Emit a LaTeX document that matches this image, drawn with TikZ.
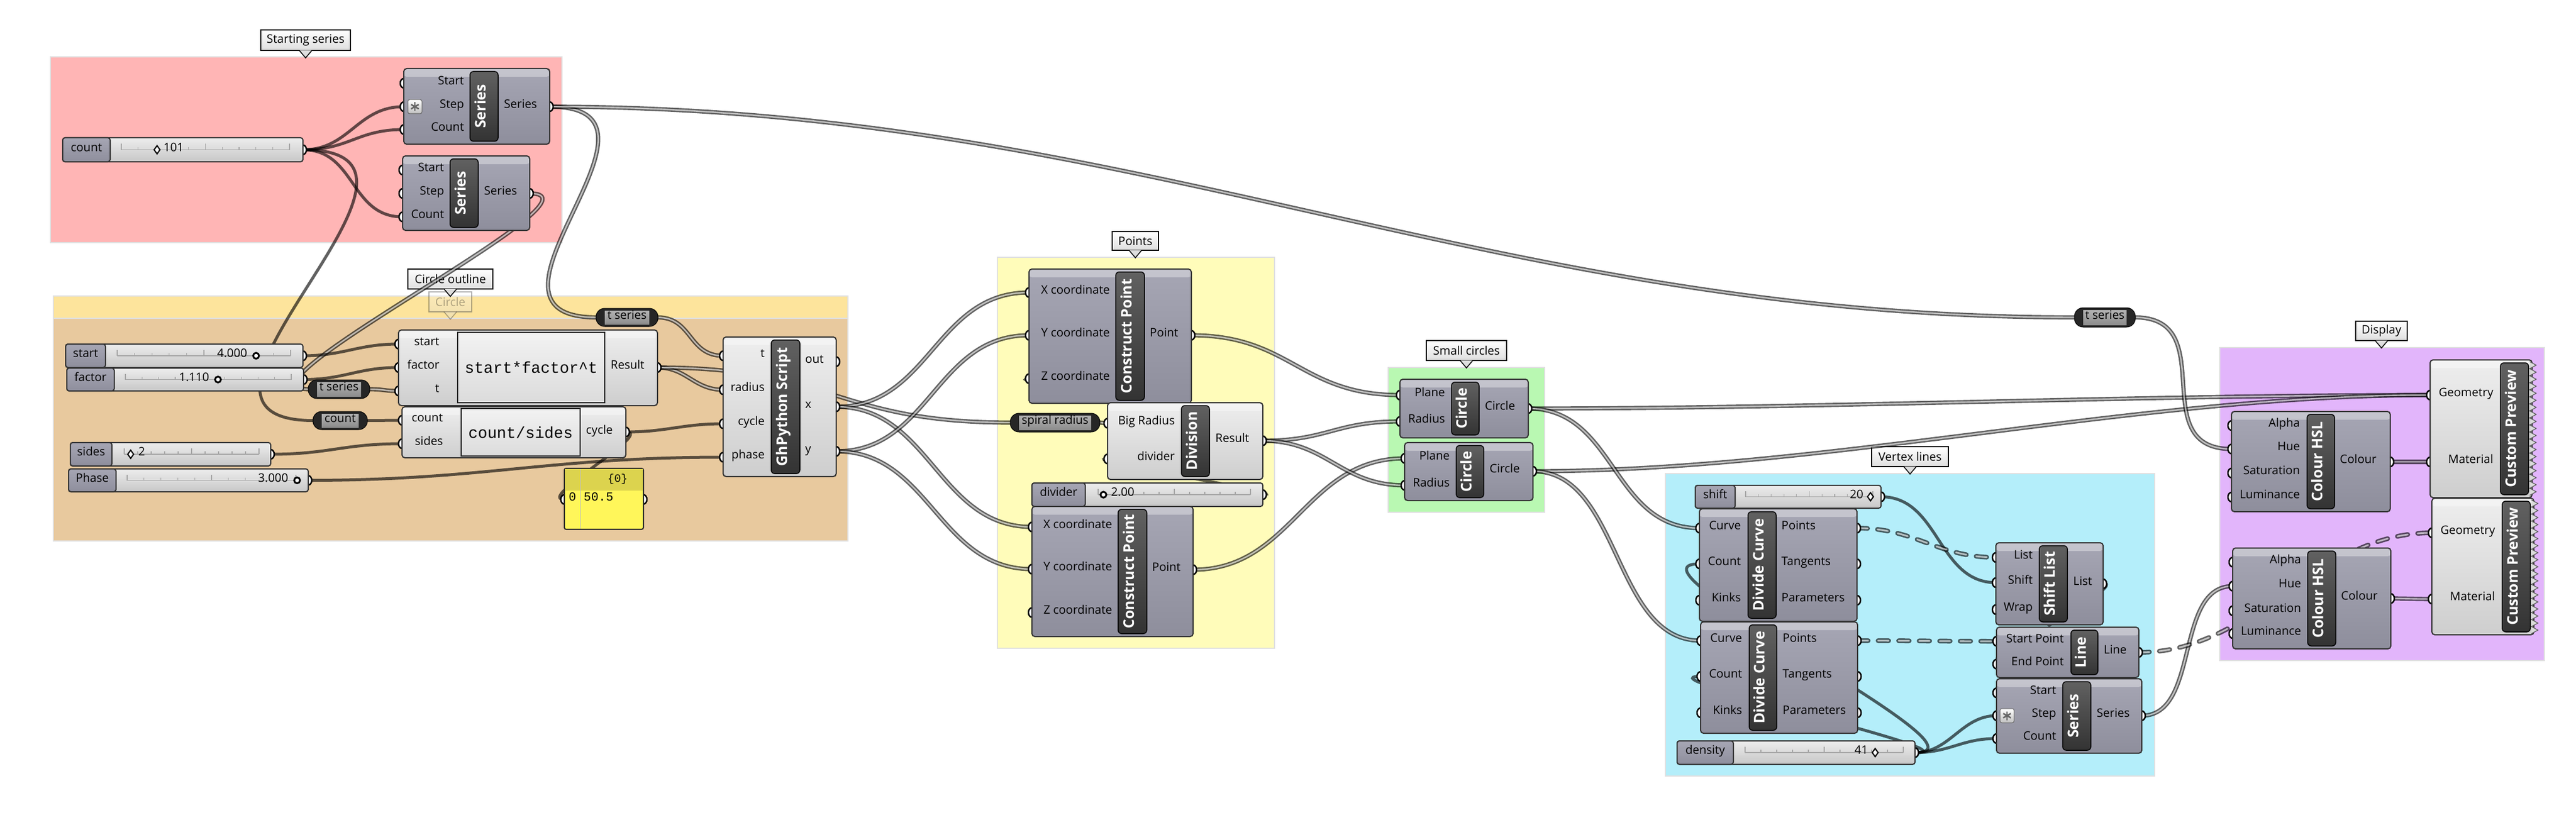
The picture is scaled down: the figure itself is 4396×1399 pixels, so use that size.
\documentclass[tikz,border=0pt]{standalone}
\usepackage{fontspec}
\setmainfont{Open Sans}
\setmonofont{Liberation Mono}
\usetikzlibrary{fit}
\definecolor{gpink}{RGB}{255,181,181}
\definecolor{gband}{RGB}{253,228,156}
\definecolor{gtan}{RGB}{232,201,158}
\definecolor{gyel}{RGB}{255,252,186}
\definecolor{ggrn}{RGB}{185,248,178}
\definecolor{gblu}{RGB}{180,238,250}
\definecolor{gpur}{RGB}{226,181,251}
\definecolor{dktop}{RGB}{166,166,180}
\definecolor{dkbot}{RGB}{142,142,156}
\definecolor{lttop}{RGB}{238,238,238}
\definecolor{ltbot}{RGB}{206,206,206}
\definecolor{pyel}{RGB}{255,246,90}
\definecolor{pyelh}{RGB}{220,211,78}

\begin{document}
\begin{tikzpicture}[
    x=1pt,y=-1pt,
    grp/.style={draw=black!12, line width=2pt},
    call/.style={draw=black, line width=1.5pt, top color=white, bottom color=black!13, inner sep=0pt, font=\fontsize{20}{22}\selectfont},
    calltip/.style={fill=black!13, draw=black, line width=1.5pt},
    wire/.style={draw=black, draw opacity=.62, line width=5pt},
    list/.style={draw=black, draw opacity=.62, line width=2.4pt, double=white, double distance=2.4pt},
    tree/.style={list, line width=2.6pt, double distance=2.8pt, dash pattern=on 18pt off 17pt, line cap=round},
    port/.style={fill=white, draw=black, line width=2.5pt},
    dkbody/.style={draw=black!80, line width=2pt, rounded corners=5pt, top color=dktop, bottom color=dkbot, inner sep=0pt,
      path picture={\fill[white, opacity=.35] (path picture bounding box.north west) rectangle ([yshift=-14pt]path picture bounding box.north east);}},
    ltbody/.style={dkbody, top color=lttop, bottom color=ltbot},
    bar/.style={draw=black, line width=1.5pt, rounded corners=6pt, top color=black!62, bottom color=black!80, inner sep=0pt},
    bartxt/.style={text=white, rotate=90, anchor=mid, inner sep=0pt, font=\fontsize{25}{27}\selectfont\bfseries},
    lbl/.style={inner sep=0pt, anchor=mid, font=\fontsize{20}{22}\selectfont},
    inl/.style={lbl, anchor=mid east},
    outl/.style={lbl, anchor=mid west},
    code/.style={inner sep=0pt, font=\ttfamily\fontsize{27}{29}\selectfont},
    codebox/.style={draw=black!85, line width=1.5pt, top color=white!95!black, bottom color=black!14, inner sep=0pt},
    sld/.style={draw=black!80, line width=2pt, rounded corners=4pt, top color=white!93!black, bottom color=black!22, inner sep=0pt},
    sldlab/.style={sld, top color=dktop, bottom color=dkbot},
    tick/.style={draw=black!35, line width=1.2pt},
    dia/.style={fill=white, draw=black, line width=2pt},
    ring/.style={fill=white, draw=black, line width=3pt},
    relay/.style={fill=black!85, draw=black, line width=1pt, rounded corners=15pt, inner sep=0pt},
    relayin/.style={top color=black!30, bottom color=black!45, inner sep=0pt},
    stari/.style={draw=black!60, line width=1pt, rounded corners=3pt, top color=white, bottom color=black!25, inner sep=0pt},
    panel/.style={draw=black!85, line width=2pt, rounded corners=3pt, fill=pyel, inner sep=0pt}
    ]
    \useasboundingbox[fill=white] (0,0) rectangle (4396,1399);

    \filldraw[grp, fill=gpink] (86,97) rectangle (959,414);
    \filldraw[grp, fill=gband] (91,505) rectangle (1447,923);
    \filldraw[grp, fill=gtan] (91,543) rectangle (1447,923);
    \filldraw[grp, fill=gyel] (1702,439) rectangle (2175,1106);
    \filldraw[grp, fill=ggrn] (2369,627) rectangle (2636,874);
    \filldraw[grp, fill=gblu] (2842,808) rectangle (3677,1324);
    \filldraw[grp, fill=gpur] (3788,593) rectangle (4342,1127);

    \node[call, minimum width=153, minimum height=35] (c-start) at (521.5,68.5) {Starting series};
    \node[call, minimum width=145, minimum height=34] (c-outl) at (768.5,476) {Circle outline};
    \node[call, minimum width=73, minimum height=34, opacity=.3] (c-circ) at (768.5,515) {Circle};
    \node[call, minimum width=79, minimum height=32] (c-pts) at (1937.5,411) {Points};
    \node[call, minimum width=137, minimum height=34] (c-small) at (2502.5,598) {Small circles};
    \node[call, minimum width=131, minimum height=34] (c-vert) at (3259.5,779) {Vertex lines};
    \node[call, minimum width=88, minimum height=33] (c-disp) at (4064,564.5) {Display};
    \foreach \c in {c-start,c-outl,c-pts,c-small,c-vert,c-disp}
      \filldraw[calltip] ([xshift=-11pt,yshift=1pt]\c.south) -- ([yshift=-12pt]\c.south) -- ([xshift=11pt,yshift=1pt]\c.south);
    \filldraw[calltip, opacity=.3] ([xshift=-11pt,yshift=1pt]c-circ.south) -- ([yshift=-12pt]c-circ.south) -- ([xshift=11pt,yshift=1pt]c-circ.south);

    \coordinate (cnt-out) at (517,255.5);
    \coordinate (ser1-start) at (689,142);
    \coordinate (ser1-step) at (689,182);
    \coordinate (ser1-count) at (689,221);
    \coordinate (ser1-out) at (938,182);
    \coordinate (ser2-start) at (687,290);
    \coordinate (ser2-step) at (687,330);
    \coordinate (ser2-count) at (687,370);
    \coordinate (ser2-out) at (904,330);
    \coordinate (start-out) at (517,607);
    \coordinate (factor-out) at (518,647.5);
    \coordinate (sides-out) at (462,775);
    \coordinate (phase-out) at (526,819.5);
    \coordinate (tsa-in) at (527,664);
    \coordinate (tsa-out) at (630,664);
    \coordinate (tsb-in) at (1018,541.5);
    \coordinate (tsb-out) at (1122,541.5);
    \coordinate (tsc-in) at (3541,541.5);
    \coordinate (tsc-out) at (3643,541.5);
    \coordinate (cntr-in) at (535,717.5);
    \coordinate (cntr-out) at (626,717.5);
    \coordinate (spr-in) at (1725,721);
    \coordinate (spr-out) at (1876,721);
    \coordinate (ex1-start) at (680,587);
    \coordinate (ex1-factor) at (680,627);
    \coordinate (ex1-t) at (680,667);
    \coordinate (ex1-out) at (1122,627);
    \coordinate (ex2-count) at (686,717);
    \coordinate (ex2-sides) at (686,757);
    \coordinate (ex2-out) at (1068,737);
    \coordinate (pan-in) at (963,852);
    \coordinate (pan-out) at (1098,852);
    \coordinate (gh-t) at (1234,607);
    \coordinate (gh-radius) at (1234,665);
    \coordinate (gh-cycle) at (1234,723);
    \coordinate (gh-phase) at (1234,780);
    \coordinate (gh-out) at (1427,617);
    \coordinate (gh-x) at (1427,694);
    \coordinate (gh-y) at (1427,770);
    \coordinate (cp1-x) at (1756,499);
    \coordinate (cp1-y) at (1756,572);
    \coordinate (cp1-z) at (1756,646);
    \coordinate (cp1-out) at (2033,572);
    \coordinate (div-big) at (1890,722);
    \coordinate (div-div) at (1890,783);
    \coordinate (div-out) at (2155,752);
    \coordinate (dvs-out) at (2155,844);
    \coordinate (cp2-x) at (1761,899);
    \coordinate (cp2-y) at (1761,971);
    \coordinate (cp2-z) at (1761,1045);
    \coordinate (cp2-out) at (2036,972);
    \coordinate (c1-plane) at (2389,674);
    \coordinate (c1-rad) at (2389,719);
    \coordinate (c1-out) at (2608,697);
    \coordinate (c2-plane) at (2397,782);
    \coordinate (c2-rad) at (2397,828);
    \coordinate (c2-out) at (2616,804);
    \coordinate (shift-out) at (3210,847.5);
    \coordinate (dens-out) at (3268,1284);
    \coordinate (dc1-curve) at (2900,901);
    \coordinate (dc1-count) at (2900,962);
    \coordinate (dc1-kinks) at (2900,1024);
    \coordinate (dc1-pts) at (3169,901);
    \coordinate (dc1-tan) at (3169,962);
    \coordinate (dc1-par) at (3169,1024);
    \coordinate (dc2-curve) at (2902,1093);
    \coordinate (dc2-count) at (2902,1154);
    \coordinate (dc2-kinks) at (2902,1216);
    \coordinate (dc2-pts) at (3170,1093);
    \coordinate (dc2-tan) at (3170,1154);
    \coordinate (dc2-par) at (3170,1216);
    \coordinate (sl-list) at (3406,951);
    \coordinate (sl-shift) at (3406,994);
    \coordinate (sl-wrap) at (3406,1040);
    \coordinate (sl-out) at (3589,996);
    \coordinate (ln-start) at (3407,1094);
    \coordinate (ln-end) at (3407,1133);
    \coordinate (ln-out) at (3650,1113);
    \coordinate (ser3-start) at (3407,1182);
    \coordinate (ser3-step) at (3407,1221);
    \coordinate (ser3-count) at (3407,1260);
    \coordinate (ser3-out) at (3655,1221);
    \coordinate (h1-alpha) at (3808,726);
    \coordinate (h1-hue) at (3808,766);
    \coordinate (h1-sat) at (3808,807);
    \coordinate (h1-lum) at (3808,848);
    \coordinate (h1-out) at (4079,788);
    \coordinate (h2-alpha) at (3810,959);
    \coordinate (h2-hue) at (3810,1000);
    \coordinate (h2-sat) at (3810,1042);
    \coordinate (h2-lum) at (3810,1081);
    \coordinate (h2-out) at (4080,1021);
    \coordinate (pv1-geo) at (4147,674);
    \coordinate (pv1-mat) at (4147,788);
    \coordinate (pv2-geo) at (4150,909);
    \coordinate (pv2-mat) at (4150,1022);

    \draw[wire] (cnt-out) .. controls +(80,0) and +(-80,0) .. (ser1-step);
    \draw[wire] (cnt-out) .. controls +(80,0) and +(-80,0) .. (ser1-count);
    \draw[wire] (cnt-out) .. controls +(90,0) and +(-90,0) .. (ser2-count);
    \draw[wire] (cnt-out) .. controls +(310,0) and +(-310,0) .. (cntr-in);
    \draw[list] (ser1-out) .. controls +(250,0) and +(-250,0) .. (tsb-in);
    \draw[list] (ser1-out) .. controls +(1000,0) and +(-1000,0) .. (tsc-in);
    \draw[list] (ser2-out) .. controls +(150,0) and +(-150,0) .. (tsa-in);
    \draw[wire] (start-out) .. controls +(70,0) and +(-70,0) .. (ex1-start);
    \draw[wire] (factor-out) .. controls +(70,0) and +(-70,0) .. (ex1-factor);
    \draw[list] (tsa-out) .. controls +(25,0) and +(-25,0) .. (ex1-t);
    \draw[wire] (cntr-out) .. controls +(30,0) and +(-30,0) .. (ex2-count);
    \draw[wire] (sides-out) .. controls +(100,0) and +(-100,0) .. (ex2-sides);
    \draw[wire] (phase-out) .. controls +(300,0) and +(-300,0) .. (gh-phase);
    \draw[wire] (ex2-out) .. controls +(70,0) and +(-70,0) .. (gh-cycle);
    \draw[wire] (ex2-out) .. controls +(50,0) and +(-50,0) .. (pan-in);
    \draw[list] (ex1-out) .. controls +(50,0) and +(-50,0) .. (gh-radius);
    \draw[list] (ex1-out) .. controls +(300,0) and +(-300,0) .. (spr-in);
    \draw[list] (tsb-out) .. controls +(60,0) and +(-60,0) .. (gh-t);
    \draw[list] (gh-x) .. controls +(160,0) and +(-160,0) .. (cp1-x);
    \draw[list] (gh-x) .. controls +(160,0) and +(-160,0) .. (cp2-x);
    \draw[list] (gh-y) .. controls +(160,0) and +(-160,0) .. (cp1-y);
    \draw[list] (gh-y) .. controls +(160,0) and +(-160,0) .. (cp2-y);
    \draw[list] (spr-out) .. controls +(5,0) and +(-5,0) .. (div-big);
    \draw[wire] (dvs-out) .. controls +(60,0) and +(-60,0) .. (div-div);
    \draw[list] (div-out) .. controls +(60,0) and +(-60,0) .. (cp1-z);
    \draw[list] (cp1-out) .. controls +(170,0) and +(-170,0) .. (c1-plane);
    \draw[list] (cp2-out) .. controls +(170,0) and +(-170,0) .. (c2-plane);
    \draw[list] (div-out) .. controls +(110,0) and +(-110,0) .. (c1-rad);
    \draw[list] (div-out) .. controls +(110,0) and +(-110,0) .. (c2-rad);
    \draw[list] (c1-out) .. controls +(500,0) and +(-500,0) .. (pv1-geo);
    \draw[list] (c2-out) .. controls +(500,0) and +(-500,0) .. (pv1-geo);
    \draw[list] (c1-out) .. controls +(150,0) and +(-150,0) .. (dc1-curve);
    \draw[list] (c2-out) .. controls +(150,0) and +(-150,0) .. (dc2-curve);
    \draw[wire] (shift-out) .. controls +(100,0) and +(-100,0) .. (sl-shift);
    \draw[tree] (dc1-pts) .. controls +(100,0) and +(-100,0) .. (sl-list);
    \draw[tree] (dc2-pts) .. controls +(100,0) and +(-100,0) .. (ln-start);
    \draw[tree] (sl-out) .. controls +(40,0) and +(-40,0) .. (ln-end);
    \draw[wire] (dens-out) .. controls +(60,0) and +(-60,0) .. (ser3-step);
    \draw[wire] (dens-out) .. controls +(60,0) and +(-60,0) .. (ser3-count);
    \draw[wire] (dens-out) .. controls +(150,0) and +(-150,0) .. (dc1-count);
    \draw[wire] (dens-out) .. controls +(110,0) and +(-110,0) .. (dc2-count);
    \draw[list] (ser3-out) .. controls +(100,0) and +(-100,0) .. (h2-hue);
    \draw[tree] (ln-out) .. controls +(200,0) and +(-200,0) .. (pv2-geo);
    \draw[list] (tsc-out) .. controls +(150,0) and +(-150,0) .. (h1-hue);
    \draw[list] (h1-out) .. controls +(20,0) and +(-20,0) .. (pv1-mat);
    \draw[list] (h2-out) .. controls +(20,0) and +(-20,0) .. (pv2-mat);

    \foreach \p in {cnt-out,ser1-start,ser1-step,ser1-count,ser1-out,ser2-start,ser2-step,ser2-count,ser2-out,
      start-out,factor-out,sides-out,phase-out,ex1-start,ex1-factor,ex1-t,ex1-out,ex2-count,ex2-sides,ex2-out,
      pan-in,pan-out,gh-t,gh-radius,gh-cycle,gh-phase,gh-out,gh-x,gh-y,cp1-x,cp1-y,cp1-z,cp1-out,div-big,div-div,
      div-out,dvs-out,cp2-x,cp2-y,cp2-z,cp2-out,c1-plane,c1-rad,c1-out,c2-plane,c2-rad,c2-out,shift-out,dens-out,
      dc1-curve,dc1-count,dc1-kinks,dc1-pts,dc1-tan,dc1-par,dc2-curve,dc2-count,dc2-kinks,dc2-pts,dc2-tan,dc2-par,
      sl-list,sl-shift,sl-wrap,sl-out,ln-start,ln-end,ln-out,ser3-start,ser3-step,ser3-count,ser3-out,
      h1-alpha,h1-hue,h1-sat,h1-lum,h1-out,h2-alpha,h2-hue,h2-sat,h2-lum,h2-out,pv1-geo,pv1-mat,pv2-geo,pv2-mat}
      \filldraw[port] (\p) ellipse [x radius=6, y radius=8];

    \node[sld, fit={(107,235) (517,276)}] (cnt) {};
    \node[sldlab, fit={(107,235) (188,276)}] (cnt-lab) {};
    \node[sld, fit={(112,587) (517,627)}] (start) {};
    \node[sldlab, fit={(112,587) (180,627)}] (start-lab) {};
    \node[sld, fit={(114,628) (518,667)}] (factor) {};
    \node[sldlab, fit={(114,628) (195,667)}] (factor-lab) {};
    \node[sld, fit={(120,755) (462,795)}] (sides) {};
    \node[sldlab, fit={(120,755) (191,795)}] (sides-lab) {};
    \node[sld, fit={(117,800) (526,839)}] (phase) {};
    \node[sldlab, fit={(117,800) (198,839)}] (phase-lab) {};
    \node[sld, fit={(1761,824) (2155,864)}] (dvs) {};
    \node[sldlab, fit={(1761,824) (1852,864)}] (dvs-lab) {};
    \node[sld, fit={(2893,828) (3210,867)}] (shift) {};
    \node[sldlab, fit={(2893,828) (2961,867)}] (shift-lab) {};
    \node[sld, fit={(2862,1264) (3268,1304)}] (dens) {};
    \node[sldlab, fit={(2862,1264) (2958,1304)}] (dens-lab) {};
    \foreach \s/\t in {cnt/count,start/start,factor/factor,sides/sides,phase/Phase,dvs/divider,shift/shift,dens/density}
      \node[lbl] (\s-name) at (\s-lab) {\t};
    \foreach \a/\b/\y in {207/494/255.5,200/496/607,214/497/647.5,212/442/775,217/505/819.5,1874/2134/844,2979/3196/847.5,2978/3248/1284}{
      \draw[tick] (\a,\y) -- (\b,\y);
      \foreach \k in {0,5,10} \draw[tick] ({\a+(\b-\a)*\k/10},\y) -- ++(0,-10);
      \foreach \k in {1,2,3,4,6,7,8,9} \draw[tick] ({\a+(\b-\a)*\k/10},\y) -- ++(0,-5);
    }
    \node[lbl, anchor=mid west] (cnt-v) at (279,255.5) {101};
    \node[lbl, anchor=mid east] (start-v) at (422,607) {4.000};
    \node[lbl, anchor=mid east] (factor-v) at (357,647.5) {1.110};
    \node[lbl, anchor=mid west] (sides-v) at (236,775) {2};
    \node[lbl, anchor=mid east] (phase-v) at (492,819.5) {3.000};
    \node[lbl, anchor=mid west] (dvs-v) at (1896,844) {2.00};
    \node[lbl, anchor=mid east] (shift-v) at (3180,847.5) {20};
    \node[lbl, anchor=mid east] (dens-v) at (3188,1284) {41};
    \foreach \x/\y in {268/255.5,223/775,3192/847.5,3200/1284}
      \draw[dia] (\x,\y) +(0,-7) -- +(5,0) -- +(0,7) -- +(-5,0) -- cycle;
    \foreach \x/\y in {437/607,372/647.5,507/819.5,1883/844}
      \draw[ring] (\x,\y) circle (5);

    \foreach \r/\a/\b/\c/\d/\t in {tsa/526/648/631/680/t series,tsb/1017/526/1123/557/t series,tsc/3540/525/3644/558/t series,
      cntr/534/702/627/733/count,spr/1724/705/1877/737/spiral radius}{
      \node[relay, fit={(\a,\b) (\c,\d)}] (\r) {};
      \node[relayin, fit={({\a+15},{\b+4}) ({\c-15},{\d-4})}] (\r-box) {};
      \node[lbl] (\r-name) at (\r) {\t};
    }

    \node[dkbody, fit={(689,117) (938,246)}] (ser1) {};
    \node[bar, fit={(802,122) (850,241)}] (ser1-bar) {};
    \node[bartxt] (ser1-title) at (ser1-bar) {Series};
    \foreach \y/\t [count=\i] in {142/Start,182/Step,221/Count} \node[inl] (ser1-i\i) at (792,\y) {\t};
    \node[outl] (ser1-o) at (860,182) {Series};
    \node[stari, fit={(696,170) (720,194)}] (ser1-star) {};
    \foreach \a in {90,150,210} \draw[line width=2.6pt, black!60] (ser1-star) ++(\a:7.5) -- ++(\a+180:15);

    \node[dkbody, fit={(687,266) (904,393)}] (ser2) {};
    \node[bar, fit={(768,271) (816,388)}] (ser2-bar) {};
    \node[bartxt] (ser2-title) at (ser2-bar) {Series};
    \foreach \y/\t [count=\i] in {290/Start,330/Step,370/Count} \node[inl] (ser2-i\i) at (758,\y) {\t};
    \node[outl] (ser2-o) at (826,330) {Series};

    \node[ltbody, fit={(680,563) (1122,692)}] (ex1) {};
    \node[codebox, fit={(781,567) (1032,687)}] (ex1-box) {};
    \node[code] (ex1-code) at (ex1-box) {start*factor\textasciicircum t};
    \foreach \y/\t [count=\i] in {587/start,627/factor,667/t} \node[inl] (ex1-i\i) at (750,\y) {\t};
    \node[outl] (ex1-o) at (1042,627) {Result};

    \node[ltbody, fit={(686,694) (1068,781)}] (ex2) {};
    \node[codebox, fit={(787,697) (990,778)}] (ex2-box) {};
    \node[code] (ex2-code) at (ex2-box) {count/sides};
    \foreach \y/\t [count=\i] in {717/count,757/sides} \node[inl] (ex2-i\i) at (756,\y) {\t};
    \node[outl] (ex2-o) at (1000,738) {cycle};

    \node[panel, fit={(963,799) (1098,903)}] (pan) {};
    \fill[pyelh] (964,800) rectangle (1097,837);
    \draw[black!25, line width=1pt] (990,800) -- (990,902);
    \node[inner sep=0pt, font=\ttfamily\fontsize{19}{21}\selectfont] (pan-head) at (1054,818) {\{0\}};
    \node[inner sep=0pt, anchor=mid, font=\ttfamily\fontsize{21}{23}\selectfont] (pan-idx) at (977,852) {0};
    \node[inner sep=0pt, anchor=mid west, font=\ttfamily\fontsize{21}{23}\selectfont] (pan-val) at (996,852) {50.5};

    \node[ltbody, fit={(1234,575) (1427,813)}] (gh) {};
    \node[bar, fit={(1316,580) (1365,808)}] (gh-bar) {};
    \node[bartxt] (gh-title) at (gh-bar) {GhPython Script};
    \foreach \y/\t [count=\i] in {607/t,665/radius,723/cycle,780/phase} \node[inl] (gh-i\i) at (1305,\y) {\t};
    \foreach \y/\t [count=\i] in {617/out,694/x,770/y} \node[outl] (gh-o\i) at (1374,\y) {\t};

    \node[dkbody, fit={(1756,459) (2033,688)}] (cp1) {};
    \node[bar, fit={(1904,464) (1953,683)}] (cp1-bar) {};
    \node[bartxt] (cp1-title) at (cp1-bar) {Construct Point};
    \foreach \y/\t [count=\i] in {499/X coordinate,572/Y coordinate,646/Z coordinate} \node[inl] (cp1-i\i) at (1894,\y) {\t};
    \node[outl] (cp1-o) at (1962,572) {Point};

    \node[ltbody, fit={(1890,687) (2155,818)}] (div) {};
    \node[bar, fit={(2016,692) (2064,813)}] (div-bar) {};
    \node[bartxt] (div-title) at (div-bar) {Division};
    \foreach \y/\t [count=\i] in {722/Big Radius,783/divider} \node[inl] (div-i\i) at (2005,\y) {\t};
    \node[outl] (div-o) at (2074,752) {Result};

    \node[dkbody, fit={(1761,864) (2036,1086)}] (cp2) {};
    \node[bar, fit={(1908,869) (1957,1081)}] (cp2-bar) {};
    \node[bartxt] (cp2-title) at (cp2-bar) {Construct Point};
    \foreach \y/\t [count=\i] in {899/X coordinate,971/Y coordinate,1045/Z coordinate} \node[inl] (cp2-i\i) at (1898,\y) {\t};
    \node[outl] (cp2-o) at (1966,972) {Point};

    \node[dkbody, fit={(2389,647) (2608,747)}] (c1) {};
    \node[bar, fit={(2477,652) (2524,742)}] (c1-bar) {};
    \node[bartxt] (c1-title) at (c1-bar) {Circle};
    \foreach \y/\t [count=\i] in {674/Plane,719/Radius} \node[inl] (c1-i\i) at (2466,\y) {\t};
    \node[outl] (c1-o) at (2534,697) {Circle};

    \node[dkbody, fit={(2397,755) (2616,854)}] (c2) {};
    \node[bar, fit={(2485,760) (2532,849)}] (c2-bar) {};
    \node[bartxt] (c2-title) at (c2-bar) {Circle};
    \foreach \y/\t [count=\i] in {782/Plane,828/Radius} \node[inl] (c2-i\i) at (2474,\y) {\t};
    \node[outl] (c2-o) at (2542,804) {Circle};

    \node[dkbody, fit={(2900,868) (3169,1060)}] (dc1) {};
    \node[bar, fit={(2983,873) (3031,1055)}] (dc1-bar) {};
    \node[bartxt] (dc1-title) at (dc1-bar) {Divide Curve};
    \foreach \y/\t [count=\i] in {901/Curve,962/Count,1024/Kinks} \node[inl] (dc1-i\i) at (2971,\y) {\t};
    \foreach \y/\t [count=\i] in {901/Points,962/Tangents,1024/Parameters} \node[outl] (dc1-o\i) at (3040,\y) {\t};

    \node[dkbody, fit={(2902,1061) (3170,1251)}] (dc2) {};
    \node[bar, fit={(2985,1066) (3032,1246)}] (dc2-bar) {};
    \node[bartxt] (dc2-title) at (dc2-bar) {Divide Curve};
    \foreach \y/\t [count=\i] in {1093/Curve,1154/Count,1216/Kinks} \node[inl] (dc2-i\i) at (2973,\y) {\t};
    \foreach \y/\t [count=\i] in {1093/Points,1154/Tangents,1216/Parameters} \node[outl] (dc2-o\i) at (3042,\y) {\t};

    \node[dkbody, fit={(3406,926) (3589,1066)}] (sl) {};
    \node[bar, fit={(3480,931) (3528,1061)}] (sl-bar) {};
    \node[bartxt] (sl-title) at (sl-bar) {Shift List};
    \foreach \y/\t [count=\i] in {951/List,994/Shift,1040/Wrap} \node[inl] (sl-i\i) at (3469,\y) {\t};
    \node[outl] (sl-o) at (3538,996) {List};

    \node[dkbody, fit={(3407,1070) (3650,1156)}] (ln) {};
    \node[bar, fit={(3534,1075) (3580,1151)}] (ln-bar) {};
    \node[bartxt] (ln-title) at (ln-bar) {Line};
    \foreach \y/\t [count=\i] in {1094/Start Point,1133/End Point} \node[inl] (ln-i\i) at (3522,\y) {\t};
    \node[outl] (ln-o) at (3590,1113) {Line};

    \node[dkbody, fit={(3407,1158) (3655,1285)}] (ser3) {};
    \node[bar, fit={(3520,1163) (3568,1280)}] (ser3-bar) {};
    \node[bartxt] (ser3-title) at (ser3-bar) {Series};
    \foreach \y/\t [count=\i] in {1182/Start,1221/Step,1260/Count} \node[inl] (ser3-i\i) at (3509,\y) {\t};
    \node[outl] (ser3-o) at (3578,1221) {Series};
    \node[stari, fit={(3413,1209) (3437,1233)}] (ser3-star) {};
    \foreach \a in {90,150,210} \draw[line width=2.6pt, black!60] (ser3-star) ++(\a:7.5) -- ++(\a+180:15);

    \node[dkbody, fit={(3808,702) (4079,873)}] (h1) {};
    \node[bar, fit={(3937,707) (3984,868)}] (h1-bar) {};
    \node[bartxt] (h1-title) at (h1-bar) {Colour HSL};
    \foreach \y/\t [count=\i] in {726/Alpha,766/Hue,807/Saturation,848/Luminance} \node[inl] (h1-i\i) at (3925,\y) {\t};
    \node[outl] (h1-o) at (3993,788) {Colour};

    \node[dkbody, fit={(3810,935) (4080,1107)}] (h2) {};
    \node[bar, fit={(3938,940) (3986,1102)}] (h2-bar) {};
    \node[bartxt] (h2-title) at (h2-bar) {Colour HSL};
    \foreach \y/\t [count=\i] in {959/Alpha,1000/Hue,1042/Saturation,1081/Luminance} \node[inl] (h2-i\i) at (3927,\y) {\t};
    \node[outl] (h2-o) at (3995,1021) {Colour};

    \node[ltbody, fit={(4147,614) (4321,849)}] (pv1) {};
    \fill[ltbot!60!lttop] (4317,617) \foreach \k in {0,...,18} {-- (4328,{623+12*\k}) -- (4317,{629+12*\k})} -- (4317,846) -- cycle;
    \draw[black!65, line width=1.2pt] (4317,617) \foreach \k in {0,...,18} {-- (4328,{623+12*\k}) -- (4317,{629+12*\k})};
    \node[bar, fit={(4267,619) (4315,844)}] (pv1-bar) {};
    \node[bartxt] (pv1-title) at (pv1-bar) {Custom Preview};
    \foreach \y/\t [count=\i] in {674/Geometry,788/Material} \node[inl] (pv1-i\i) at (4255,\y) {\t};

    \node[ltbody, fit={(4150,850) (4324,1083)}] (pv2) {};
    \fill[ltbot!60!lttop] (4320,853) \foreach \k in {0,...,18} {-- (4331,{859+12*\k}) -- (4320,{865+12*\k})} -- (4320,1080) -- cycle;
    \draw[black!65, line width=1.2pt] (4320,853) \foreach \k in {0,...,18} {-- (4331,{859+12*\k}) -- (4320,{865+12*\k})};
    \node[bar, fit={(4270,855) (4318,1078)}] (pv2-bar) {};
    \node[bartxt] (pv2-title) at (pv2-bar) {Custom Preview};
    \foreach \y/\t [count=\i] in {909/Geometry,1022/Material} \node[inl] (pv2-i\i) at (4258,\y) {\t};
  \end{tikzpicture}
\end{document}
